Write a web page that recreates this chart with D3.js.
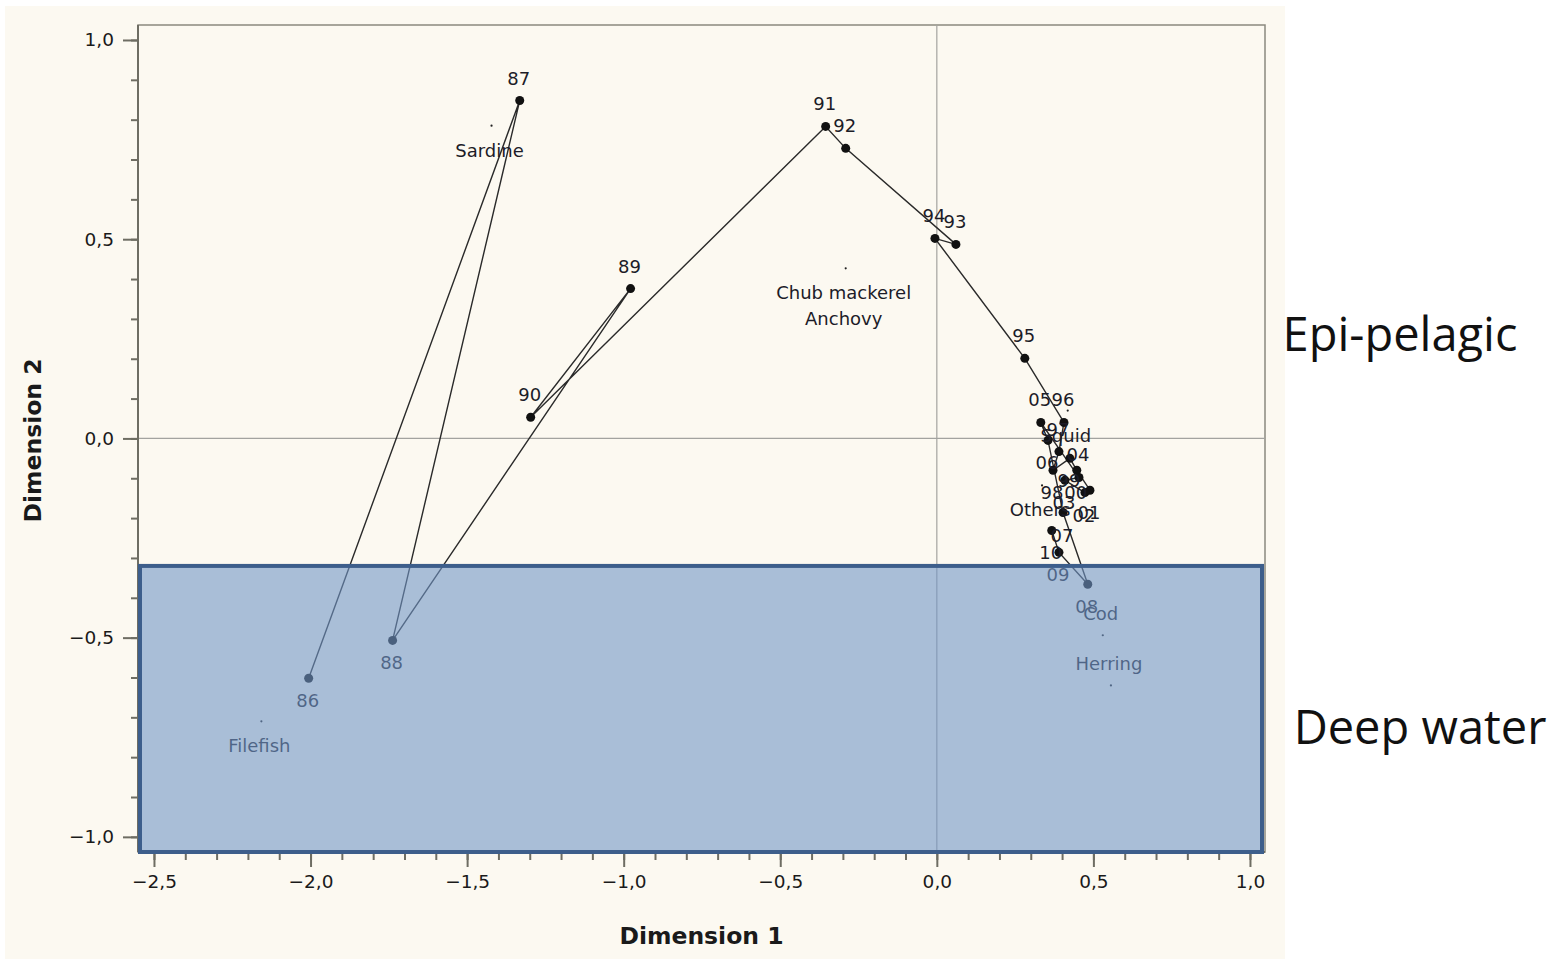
<!DOCTYPE html>
<html>
<head>
<meta charset="utf-8">
<script src="https://cdn.jsdelivr.net/npm/d3@7"></script>
<style>
  html, body { margin: 0; padding: 0; background: #ffffff; }
  svg { display: block; }
</style>
</head>
<body>
<svg id="chart" width="1562" height="960"></svg>
<script>
// ---------------- data ----------------
const years = ["86","87","88","89","90","91","92","93","94","95","96","97","98","99","00","01","02","03","04","05","06","07","08","09","10"];
const yearDim1 = [-2.006,-1.332,-1.738,-0.978,-1.297,-0.355,-0.291,0.061,-0.006,0.281,0.406,0.390,0.371,0.425,0.447,0.489,0.473,0.409,0.454,0.332,0.355,0.403,0.482,0.390,0.367];
const yearDim2 = [-0.602,0.848,-0.507,0.376,0.053,0.783,0.728,0.487,0.502,0.201,0.040,-0.033,-0.080,-0.050,-0.080,-0.130,-0.136,-0.105,-0.098,0.040,-0.005,-0.186,-0.366,-0.286,-0.231];
const yearLabelSide = ["below","above","below","above","above","above","above","above","above","above","above","above","below","below","below","below","below","below","above","above","below","below","below","below","below"];

const species = ["Sardine","Chub mackerel","Anchovy","Squid","Others","Cod","Herring","Filefish"];
const speciesDim1 = [-1.422,-0.291,-0.291,0.418,0.336,0.530,0.556,-2.157];
const speciesDim2 = [0.785,0.427,0.427,0.070,-0.118,-0.494,-0.620,-0.710];
const speciesLabelSide = ["below","below","below","below","below","above","above","below"];

const xMajorTicks = [-2.5,-2.0,-1.5,-1.0,-0.5,0.0,0.5,1.0];
const yMajorTicks = [-1.0,-0.5,0.0,0.5,1.0];
const deepWaterTop = -0.32;   // upper bound (Dimension 2) of shaded zone
const zoneLabels = ["Epi-pelagic","Deep water"];
const zoneLabelDim2 = [0.22,-0.768];

// ---------------- layout ----------------
const svg = d3.select("#chart");
const L = 138, R = 1265, T = 25, B = 852;
const x = d3.scaleLinear().domain([-2.551, 1.048]).range([L, R]);
const y = d3.scaleLinear().domain([-1.038, 1.0376]).range([B, T]);
const fmt = v => d3.format(".1f")(v).replace(".", ",");
const FONT = "'DejaVu Sans', sans-serif";

// panel background
svg.append("rect").attr("x", 5).attr("y", 6).attr("width", 1280).attr("height", 953).attr("fill", "#fcf9f1");

// frame
svg.append("rect").attr("x", L).attr("y", T).attr("width", R - L).attr("height", B - T)
  .attr("fill", "none").attr("stroke", "#8a897f").attr("stroke-width", 1.5);

// zero lines
svg.append("line").attr("x1", x(0)).attr("x2", x(0)).attr("y1", T).attr("y2", B)
  .attr("stroke", "#a3a3a0").attr("stroke-width", 1.2);
svg.append("line").attr("x1", L).attr("x2", R).attr("y1", y(0)).attr("y2", y(0))
  .attr("stroke", "#a3a3a0").attr("stroke-width", 1.2);

// axes
const xMinor = d3.range(-25, 11).map(v => v / 10);
const yMinor = d3.range(-10, 11).map(v => v / 10);

function styleAxis(g) {
  g.select(".domain").attr("stroke", "#6e6d63").attr("stroke-width", 2);
  g.selectAll(".tick line").attr("stroke", "#6e6d63").attr("stroke-width", 2);
  g.selectAll(".tick text").attr("fill", "#1a1a1a").attr("font-family", FONT).attr("font-size", 18.5);
}
const gxMinor = svg.append("g").attr("transform", `translate(0,${B})`)
  .call(d3.axisBottom(x).tickValues(xMinor).tickSize(8).tickFormat("").tickSizeOuter(0));
styleAxis(gxMinor);
const gx = svg.append("g").attr("transform", `translate(0,${B})`)
  .call(d3.axisBottom(x).tickValues(xMajorTicks).tickSize(15).tickPadding(8).tickFormat(fmt).tickSizeOuter(0));
styleAxis(gx);
const gyMinor = svg.append("g").attr("transform", `translate(${L},0)`)
  .call(d3.axisLeft(y).tickValues(yMinor).tickSize(7).tickFormat("").tickSizeOuter(0));
styleAxis(gyMinor);
const gy = svg.append("g").attr("transform", `translate(${L},0)`)
  .call(d3.axisLeft(y).tickValues(yMajorTicks).tickSize(15).tickPadding(9).tickFormat(fmt).tickSizeOuter(0));
styleAxis(gy);
[gx, gxMinor].forEach(g => g.select(".domain").attr("d", `M${L},0H${R}`));
[gy, gyMinor].forEach(g => g.select(".domain").attr("d", `M0,${T}V${B}`));

// axis titles
svg.append("text").attr("x", (L + R) / 2).attr("y", 944).attr("text-anchor", "middle")
  .attr("font-family", FONT).attr("font-weight", "bold").attr("font-size", 23.5).attr("fill", "#1a1a1a")
  .text("Dimension 1");
svg.append("text").attr("transform", `translate(41,${(T + B) / 2 + 2}) rotate(-90)`).attr("text-anchor", "middle")
  .attr("font-family", FONT).attr("font-weight", "bold").attr("font-size", 23.5).attr("fill", "#1a1a1a")
  .text("Dimension 2");

// year trajectory
const pts = years.map((k, i) => ({ k, d1: yearDim1[i], d2: yearDim2[i], side: yearLabelSide[i] }));
svg.append("path").datum(pts)
  .attr("d", d3.line().x(d => x(d.d1)).y(d => y(d.d2)))
  .attr("fill", "none").attr("stroke", "#2a2a2a").attr("stroke-width", 1.4);
svg.append("g").selectAll("circle").data(pts).join("circle")
  .attr("cx", d => x(d.d1)).attr("cy", d => y(d.d2)).attr("r", 4.5).attr("fill", "#111");
svg.append("g").selectAll("text").data(pts).join("text")
  .attr("x", d => x(d.d1) - 1)
  .attr("y", d => y(d.d2) + (d.side === "above" ? -16 : 29))
  .attr("text-anchor", "middle").attr("font-family", FONT).attr("font-size", 18).attr("fill", "#1c1c28")
  .text(d => d.k);

// species points
const sp = species.map((n, i) => ({ n, d1: speciesDim1[i], d2: speciesDim2[i], side: speciesLabelSide[i] }));
sp.forEach((d, i) => {
  d.stack = sp.slice(0, i).filter(o => o.d1 === d.d1 && o.d2 === d.d2).length;
});
svg.append("g").selectAll("circle").data(sp.filter(d => d.stack === 0)).join("circle")
  .attr("cx", d => x(d.d1)).attr("cy", d => y(d.d2)).attr("r", 1.1).attr("fill", "#222");
svg.append("g").selectAll("text").data(sp).join("text")
  .attr("x", d => x(d.d1) - 2)
  .attr("y", d => y(d.d2) + (d.side === "above" ? -15 : 31) + d.stack * 26)
  .attr("text-anchor", "middle").attr("font-family", FONT).attr("font-size", 18).attr("fill", "#1c1c28")
  .text(d => d.n);

// deep-water zone overlay
svg.append("rect")
  .attr("x", L + 2).attr("y", y(deepWaterTop))
  .attr("width", R - L - 5).attr("height", B - y(deepWaterTop))
  .attr("fill", "rgb(114,150,198)").attr("fill-opacity", 0.6)
  .attr("stroke", "#3d5e8b").attr("stroke-width", 4);

// zone labels
svg.append("g").selectAll("text").data(zoneLabels).join("text")
  .attr("x", (d, i) => i === 0 ? 1400 : 1420)
  .attr("y", (d, i) => y(zoneLabelDim2[i]))
  .attr("text-anchor", "middle").attr("font-family", "'Open Sans', sans-serif")
  .attr("font-size", 47).attr("fill", "#111")
  .text(d => d);
</script>
</body>
</html>
